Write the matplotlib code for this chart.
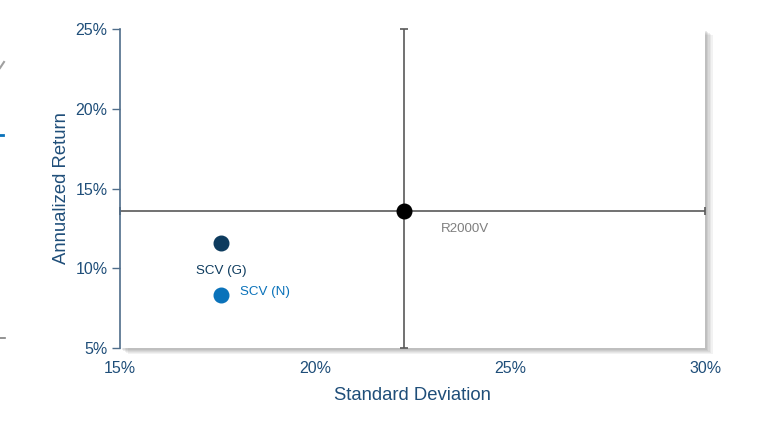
import numpy as np
import matplotlib
matplotlib.use("Agg")
import matplotlib.pyplot as plt
from matplotlib.patches import Rectangle

plt.rcParams['font.family'] = ['Liberation Sans', 'DejaVu Sans']

# ---- data (percent) ----
names = ['R2000V', 'SCV (G)', 'SCV (N)']
std_dev = [22.28, 17.59, 17.59]
ann_ret = [13.59, 11.58, 8.32]
colors = ['#000000', '#0d3b5e', '#0a72ba']
label_colors = ['#7f7f7f', '#0d3b5e', '#0a72ba']

# benchmark crosshair extents
bench_x_range = [15.0, 30.0]
bench_y_range = [5.0, 25.0]

x_ticks = [15, 20, 25, 30]
y_ticks = [5, 10, 15, 20, 25]

axis_col = '#1f4e79'

fig = plt.figure(figsize=(7.65, 4.28), dpi=100)
ax = fig.add_axes([0.1569, 0.1869, 0.7647, 0.7453])
ax.set_zorder(2)

# soft drop shadow right/bottom of plot area
for i, a in enumerate([0.10, 0.10, 0.12, 0.14, 0.16]):
    off = (5 - i) * 1.0
    fig.patches.append(Rectangle((120 + off * 1.5, 428 - 348 - off - 1), 585, 319,
                                 transform=None, facecolor='#808080', alpha=a,
                                 edgecolor='none', zorder=0))
fig.patches.append(Rectangle((120, 428 - 348), 585, 319, transform=None,
                             facecolor='white', edgecolor='none', zorder=0.5))
ax.set_facecolor('none')

# benchmark crosshair as error bars
bx, by = std_dev[0], ann_ret[0]
ax.errorbar([bx], [by],
            xerr=[[bx - bench_x_range[0]], [bench_x_range[1] - bx]],
            yerr=[[by - bench_y_range[0]], [bench_y_range[1] - by]],
            fmt='none', ecolor='#595959', elinewidth=1.2, capsize=3,
            capthick=1.2, zorder=2, clip_on=False)

for x, y, c in zip(std_dev, ann_ret, colors):
    ax.plot(x, y, 'o', color=c, markersize=10.5, zorder=3, clip_on=False)

ax.text(std_dev[0] + 0.95, ann_ret[0] - 0.78, names[0], color=label_colors[0],
        fontsize=9.6, ha='left', va='top')
ax.text(std_dev[1], ann_ret[1] - 1.35, names[1], color=label_colors[1],
        fontsize=9.6, ha='center', va='top')
ax.text(std_dev[2] + 0.48, ann_ret[2] - 0.17, names[2], color=label_colors[2],
        fontsize=9.6, ha='left', va='bottom')

ax.set_xlim(15, 30)
ax.set_ylim(5, 25)
ax.set_xticks(x_ticks)
ax.set_xticklabels([f'{t}%' for t in x_ticks])
ax.set_yticks(y_ticks)
ax.set_yticklabels([f'{t}%' for t in y_ticks])

for s in ['top', 'right', 'bottom']:
    ax.spines[s].set_visible(False)
ax.spines['left'].set_color('#4f6d8a')
ax.spines['left'].set_linewidth(1.2)

ax.tick_params(axis='y', colors='#4f6d8a', labelcolor=axis_col, labelsize=11.5,
               length=6, width=1.0, pad=3)
ax.tick_params(axis='x', length=0, labelcolor=axis_col, labelsize=11.5, pad=9)

ax.set_xlabel('Standard Deviation', color=axis_col, fontsize=13.3, labelpad=8)
ax.set_ylabel('Annualized Return', color=axis_col, fontsize=13.3, labelpad=4)

# stray fragments at the left edge
fig.lines.append(plt.Line2D([0, 4 / 765], [1 - 68 / 428, 1 - 62 / 428], transform=fig.transFigure,
                            color='#a0a0a0', lw=1.5))
fig.lines.append(plt.Line2D([0, 3 / 765], [1 - 135 / 428, 1 - 135 / 428], transform=fig.transFigure,
                            color='#0a72ba', lw=2))
fig.lines.append(plt.Line2D([0, 5 / 765], [1 - 338 / 428, 1 - 338 / 428], transform=fig.transFigure,
                            color='#808080', lw=1.2))

fig.savefig('out.png', dpi=100)
